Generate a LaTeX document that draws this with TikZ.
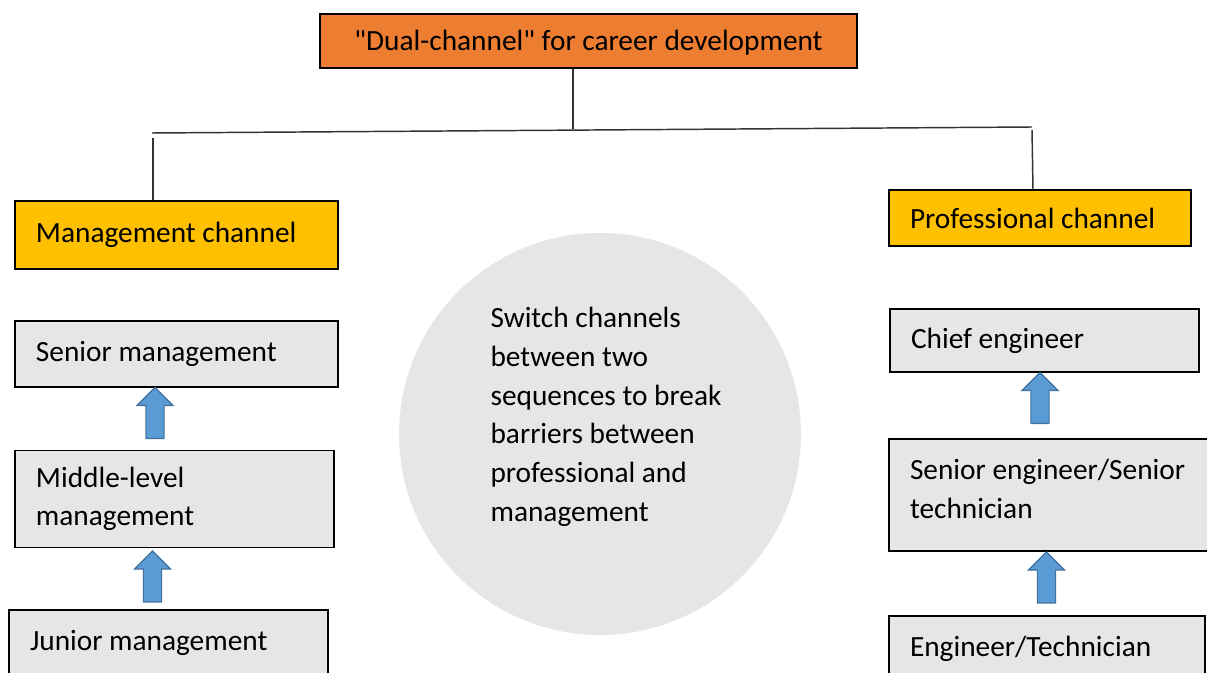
\documentclass[tikz,border=0pt]{standalone}
\usepackage{fontspec}
\setmainfont{Carlito}[Ligatures=TeXOff]
\usetikzlibrary{shapes.arrows}
\definecolor{titleorange}{RGB}{237,125,49}
\definecolor{chgold}{RGB}{255,192,0}
\definecolor{boxgray}{RGB}{231,230,230}
\definecolor{upblue}{RGB}{91,155,213}
\definecolor{upedge}{RGB}{65,113,156}
\tikzset{
  every node/.style={font=\fontsize{22}{29}\selectfont},
  stagebox/.style={draw=black, line width=0.8pt, fill=boxgray, rectangle, inner xsep=15.75pt, inner ysep=0pt, align=flush left},
  chanbox/.style={stagebox, fill=chgold},
  uparrow/.style={draw=upedge, line width=0.9pt, fill=upblue, single arrow, rotate=90, inner xsep=0pt, inner ysep=6.4pt, single arrow head extend=6.75pt, minimum height=38.25pt},
  treeline/.style={draw=black!80, line width=1.1pt}
}
\begin{document}
\begin{tikzpicture}[x=0.75pt,y=0.75pt,yscale=-1,xscale=1]
\useasboundingbox (0,0) rectangle (1207,673);

% Title Node
\node [draw=black, line width=0.8pt, fill=titleorange, minimum width=402.75pt, minimum height=40.5pt, inner sep=0pt, text height=19pt, text depth=4pt] (title) at (588.5,41) {"Dual-channel" for career development};

% Channel Nodes
\node [chanbox, text width=210.75pt, minimum height=51pt] (mgmt) at (176.5,235) {Management channel};
\node [chanbox, text width=195pt, minimum height=42pt] (prof) at (1040,218) {Professional channel};

% Management sequence
\node [stagebox, text width=210.75pt, minimum height=49.5pt] (srmgmt) at (176.5,354) {Senior management};
\node [stagebox, text width=207.75pt, minimum height=72.75pt] (midmgmt) at (174.5,499) {Middle-level\\management};
\node [stagebox, text width=207.75pt, minimum height=49.5pt] (jrmgmt) at (168.5,643) {Junior management};

% Professional sequence
\node [stagebox, text width=200.25pt, minimum height=47.25pt] (chief) at (1044.5,340.5) {Chief engineer};
\node [stagebox, text width=213pt, minimum height=84pt, text depth=38pt] (sreng) at (1052,495) {Senior~engineer/Senior\\technician};
\node [stagebox, text width=205.5pt, minimum height=49.5pt] (eng) at (1047,649) {Engineer/Technician};

% Circle Node
\node [circle, fill=boxgray, minimum size=301.5pt, inner sep=0pt] (switch) at (600,434) {};
\node [align=flush left, inner sep=0pt] (switchtxt) at (606,417) {Switch channels\\between two\\sequences to break\\barriers between\\professional and\\management};

% Block arrows
\node [uparrow] (up1) at (155,417.5) {};
\node [uparrow] (up2) at (152.5,581) {};
\node [uparrow] (up3) at (1040,402.5) {};
\node [uparrow] (up4) at (1046.5,582) {};

%Straight Lines
\coordinate (barL) at (152,133);
\coordinate (barR) at (1032,127);
\coordinate (barmid) at (573,129.5);
\draw [treeline] (title.south -| barmid) -- (barmid);
\draw [treeline] (barL) -- (barR);
\draw [treeline] (153,138) -- (mgmt.north -| 153,0);
\draw [treeline] (1032,130) -- (prof.north -| 1033,0);

\end{tikzpicture}
\end{document}
